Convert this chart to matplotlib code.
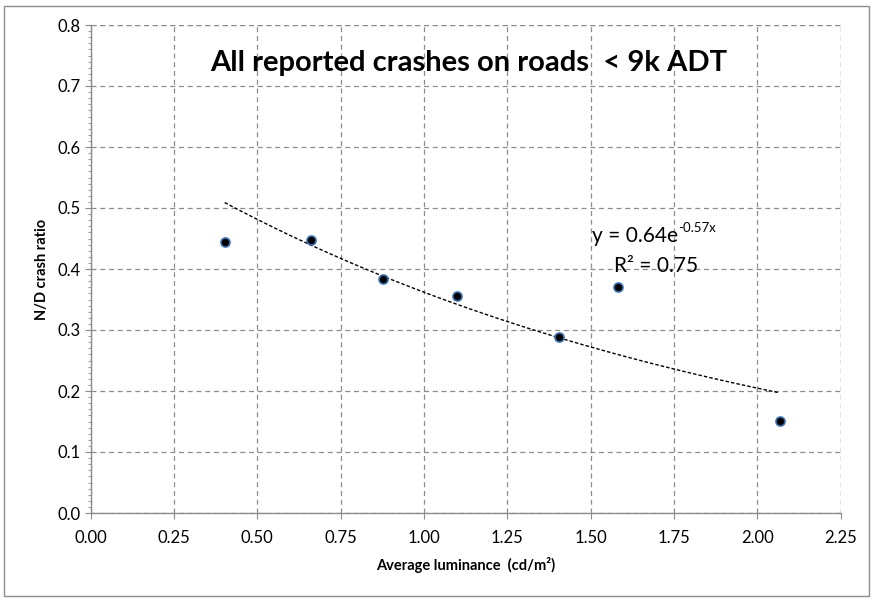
import numpy as np
import matplotlib
matplotlib.use("Agg")
import matplotlib.pyplot as plt
from matplotlib.patches import Rectangle
from matplotlib.ticker import MultipleLocator

luminance = [0.402, 0.660, 0.876, 1.099, 1.404, 1.583, 2.067]
nd_ratio = [0.445, 0.448, 0.383, 0.356, 0.288, 0.370, 0.151]
fit_a = 0.64
fit_b = -0.57
r_squared = 0.75
x_ticks = [0.0, 0.25, 0.5, 0.75, 1.0, 1.25, 1.5, 1.75, 2.0, 2.25]
y_ticks = [0.0, 0.1, 0.2, 0.3, 0.4, 0.5, 0.6, 0.7, 0.8]

plt.rcParams['font.family'] = ['Lato', 'DejaVu Sans']
plt.rcParams['mathtext.default'] = 'regular'
plt.rcParams['axes.unicode_minus'] = False

fig = plt.figure(figsize=(8.75, 6.02), dpi=100)
fig.patches.append(Rectangle((4/875, 6/602), 865/875, 590/602, transform=fig.transFigure,
                             fill=False, edgecolor='#8c8c8c', linewidth=1.0))
ax = fig.add_axes([90.7/875, 1-513/602, 750/875, 488/602])

grid_kw = dict(color='#8c8c8c', linestyle=(0, (4, 3)), linewidth=0.9)
ax.set_xlim(0, 2.25)
ax.set_ylim(0, 0.8)
ax.set_xticks(x_ticks)
ax.set_yticks(y_ticks)
ax.set_xticklabels([f"{v:.2f}" for v in x_ticks])
ax.set_yticklabels([f"{v:.1f}" for v in y_ticks])
ax.yaxis.set_minor_locator(MultipleLocator(0.01))
ax.grid(True, **grid_kw)
ax.set_axisbelow(True)
for s in ['top', 'right']:
    ax.spines[s].set_visible(False)
for s in ['left', 'bottom']:
    ax.spines[s].set_color('#8c8c8c')
    ax.spines[s].set_linewidth(1.0)
ax.axhline(0.8, **grid_kw)
ax.axvline(2.25, **grid_kw)
ax.tick_params(axis='both', which='major', direction='out', length=4, color='#8c8c8c',
               labelsize=12, labelcolor='black')
ax.tick_params(axis='y', which='minor', direction='out', length=2.5, color='#8c8c8c')
ax.tick_params(axis='x', pad=8)

xs = np.linspace(min(luminance), max(luminance), 100)
ax.plot(xs, fit_a*np.exp(fit_b*xs), color='black', linestyle=(0, (2.5, 1.5)), linewidth=1.0)
ax.scatter(luminance, nd_ratio, s=42, color='black', edgecolors='#3a6fb0', linewidths=1.2, zorder=5)

ax.set_xlabel('Average luminance  (cd/m²)', fontsize=10.5, fontweight='bold', labelpad=8)
ax.set_ylabel('N/D crash ratio', fontsize=10.5, fontweight='bold', labelpad=6)

fig.text(469/875, 1-63/602, 'All reported crashes on roads  < 9k ADT', fontsize=21,
         fontweight='bold', ha='center', va='center')
eq = ax.text(1.505, 0.454, f'y = {fit_a}e', fontsize=15, ha='left', va='center')
ax.annotate(f'{fit_b}x', xy=(1.0, 0.62), xycoords=eq, fontsize=9.5, ha='left', va='bottom')
ax.text(1.57, 0.405, f'R² = {r_squared}', fontsize=15, ha='left', va='center')

fig.savefig('out.png', dpi=100)
